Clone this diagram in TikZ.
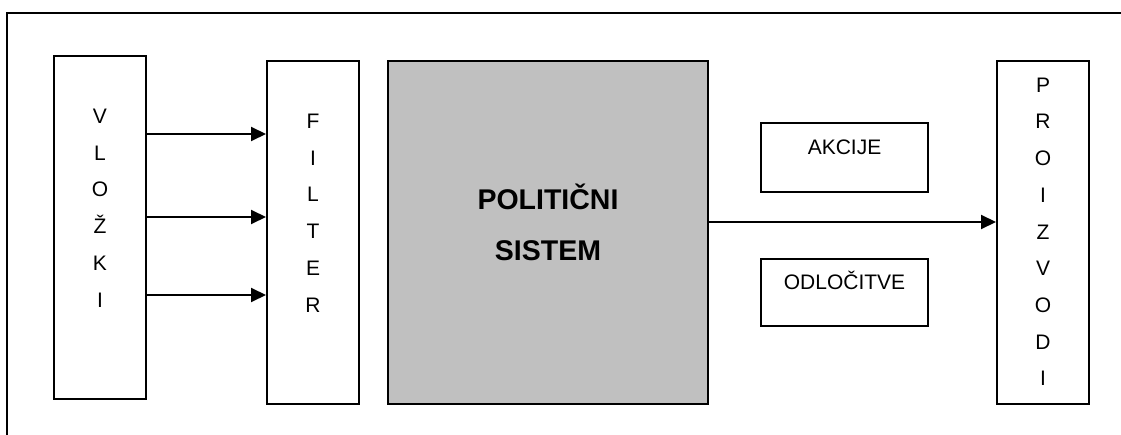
\documentclass[tikz,border=0pt]{standalone}
\usepackage{fontspec}
\setmainfont{Liberation Sans}
\usetikzlibrary{arrows.meta}
\definecolor{sysgray}{HTML}{C0C0C0}
\tikzset{
  box/.style={draw=black, line width=2pt, fill=white, inner sep=0pt},
  letter/.style={anchor=base, inner sep=0pt, font=\fontsize{21}{25}\selectfont},
  boxtext/.style={anchor=base, inner sep=0pt, font=\fontsize{21}{25}\selectfont},
  systext/.style={anchor=base, inner sep=0pt, font=\fontsize{28.5}{34}\selectfont\bfseries},
  flow/.style={line width=2pt, -{Triangle[length=15pt,width=14pt]}},
}
\begin{document}
\begin{tikzpicture}[x=1pt, y=-1pt]
  \useasboundingbox (0,0) rectangle (1121,435);

  % open frame: left and top edges only
  \coordinate (fbl) at (7,436);
  \coordinate (ftl) at (7,13);
  \coordinate (ftr) at (1122,13);
  \draw[line width=2pt] (fbl) -- (ftl) -- (ftr);

  % boxes
  \node[box, minimum width=92pt, minimum height=343pt] (vlozki) at (100,227.5) {};
  \node[box, minimum width=92pt, minimum height=343pt] (filter) at (313,232.5) {};
  \node[box, fill=sysgray, minimum width=320pt, minimum height=343pt] (sistem) at (548,232.5) {};
  \node[box, minimum width=167pt, minimum height=69pt] (akcije) at (844.5,157.5) {};
  \node[box, minimum width=167pt, minimum height=67pt] (odlocitve) at (844.5,292.5) {};
  \node[box, minimum width=92pt, minimum height=343pt] (proizvodi) at (1043,232.5) {};

  % vertical letter columns
  \foreach \c [count=\i] in {V,L,O,Ž,K,I}
    \node[letter] (vl\i) at (100,{123.3+36.8*(\i-1)}) {\c};
  \foreach \c [count=\i] in {F,I,L,T,E,R}
    \node[letter] (fl\i) at (313,{128.3+36.8*(\i-1)}) {\c};
  \foreach \c [count=\i] in {P,R,O,I,Z,V,O,D,I}
    \node[letter] (pl\i) at (1043,{92.3+36.7*(\i-1)}) {\c};

  % labels
  \node[systext] (sys1) at (548,210) {POLITIČNI};
  \node[systext] (sys2) at (548,261) {SISTEM};
  \node[boxtext] (akt) at (844.5,154.3) {AKCIJE};
  \node[boxtext] (odt) at (844.5,289.3) {ODLOČITVE};

  % inputs into the filter
  \foreach \yy in {134,217,295}
    \draw[flow] (vlozki.east |- 0,\yy) -- (filter.west |- 0,\yy);

  % outputs of the political system
  \draw[flow] (sistem.east |- 0,222) -- (proizvodi.west |- 0,222);
\end{tikzpicture}
\end{document}
